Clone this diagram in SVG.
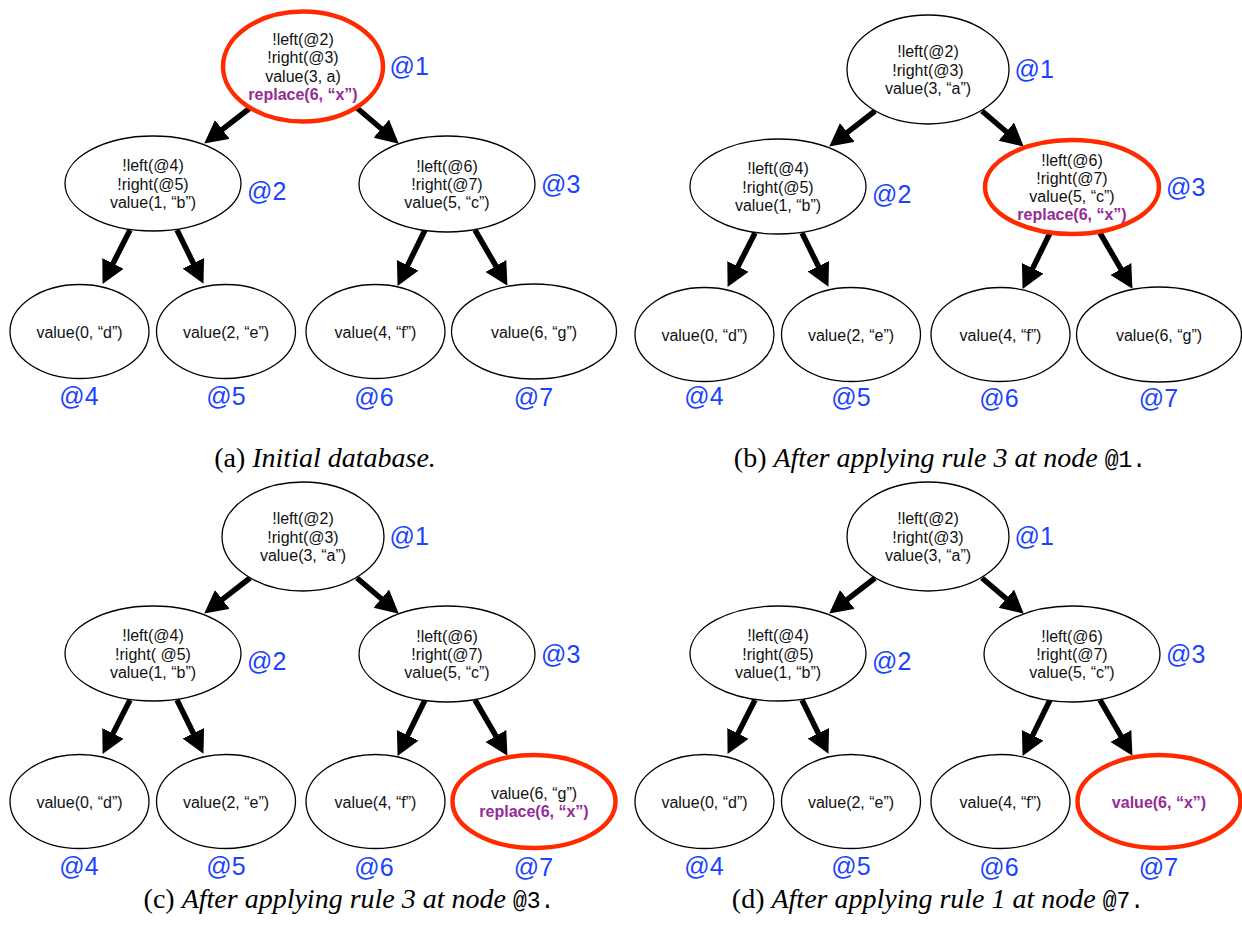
<svg xmlns="http://www.w3.org/2000/svg" width="1242" height="942" viewBox="0 0 1242 942">
  <defs>
    <style>
      .node { fill: #ffffff; stroke: #000000; stroke-width: 1.3; }
      .hot { fill: #ffffff; stroke: #ff2a00; stroke-width: 4.5; }
      .t { font-family: "Liberation Sans", Arial, Helvetica, sans-serif; font-size: 16px; fill: #111111; text-anchor: middle; }
      .rp { font-weight: bold; fill: #962b96; }
      .lbl { font-family: "Liberation Sans", Arial, Helvetica, sans-serif; font-size: 25px; fill: #1a43ff; }
      .mid { text-anchor: middle; }
      .edge { stroke: #000000; stroke-width: 5.5; fill: none; marker-end: url(#head); }
      .cap { font-family: "Liberation Serif", "Times New Roman", serif; font-size: 28px; fill: #000000; text-anchor: middle; }
      .it { font-style: italic; }
      .mono { font-family: "Liberation Mono", "Courier New", monospace; font-size: 23px; }
    </style>
    <marker id="head" markerUnits="userSpaceOnUse" markerWidth="26" markerHeight="26" refX="2" refY="12" orient="auto">
      <path d="M0,0 L23,12 L0,24 z" fill="#000000"/>
    </marker>
  </defs>

  <rect width="1242" height="942" fill="#ffffff"/>

  <!-- (a) initial database -->
  <g id="panel-a">
    <g id="a-edges">
      <line class="edge" x1="250" y1="108" x2="220.8" y2="130.7"/>
      <line class="edge" x1="357" y1="108" x2="382.8" y2="130"/>
      <line class="edge" x1="130" y1="230" x2="112.1" y2="265.2"/>
      <line class="edge" x1="177" y1="230" x2="194.2" y2="265"/>
      <line class="edge" x1="425" y1="230" x2="406.8" y2="267.1"/>
      <line class="edge" x1="475" y1="230" x2="496.9" y2="267.7"/>
    </g>
    <g id="a-n1">
      <ellipse class="hot" cx="303" cy="66.5" rx="80" ry="55"/>
      <text class="t" x="303" y="45">!left(@2)</text>
      <text class="t" x="303" y="63.3">!right(@3)</text>
      <text class="t" x="303" y="81.6">value(3, a)</text>
      <text class="t rp" x="303" y="99.9">replace(6, “x”)</text>
      <text class="lbl" x="389.5" y="75">@1</text>
    </g>
    <g id="a-n2">
      <ellipse class="node" cx="153" cy="183.5" rx="88" ry="47.5"/>
      <text class="t" x="153" y="171.2">!left(@4)</text>
      <text class="t" x="153" y="189.5">!right(@5)</text>
      <text class="t" x="153" y="207.8">value(1, “b”)</text>
      <text class="lbl" x="247" y="200">@2</text>
    </g>
    <g id="a-n3">
      <ellipse class="node" cx="447" cy="184" rx="88" ry="48"/>
      <text class="t" x="447" y="171.7">!left(@6)</text>
      <text class="t" x="447" y="190">!right(@7)</text>
      <text class="t" x="447" y="208.3">value(5, “c”)</text>
      <text class="lbl" x="541" y="193">@3</text>
    </g>
    <g id="a-n4">
      <ellipse class="node" cx="79.5" cy="331.5" rx="69.5" ry="47"/>
      <text class="t" x="79.5" y="338">value(0, “d”)</text>
      <text class="lbl mid" x="79" y="405">@4</text>
    </g>
    <g id="a-n5">
      <ellipse class="node" cx="226" cy="331.5" rx="69.5" ry="47"/>
      <text class="t" x="226" y="338">value(2, “e”)</text>
      <text class="lbl mid" x="226" y="405">@5</text>
    </g>
    <g id="a-n6">
      <ellipse class="node" cx="375.5" cy="331.5" rx="69.5" ry="47"/>
      <text class="t" x="375.5" y="338">value(4, “f”)</text>
      <text class="lbl mid" x="374" y="406">@6</text>
    </g>
    <g id="a-n7">
      <ellipse class="node" cx="534" cy="331.5" rx="82.5" ry="47.5"/>
      <text class="t" x="534" y="338">value(6, “g”)</text>
      <text class="lbl mid" x="533.5" y="406">@7</text>
    </g>
  </g>

  <!-- (b) after rule 3 at @1 -->
  <g id="panel-b" transform="translate(625,3)">
    <g id="b-edges">
      <line class="edge" x1="250" y1="108" x2="220.8" y2="130.7"/>
      <line class="edge" x1="357" y1="108" x2="382.8" y2="130"/>
      <line class="edge" x1="130" y1="230" x2="112.1" y2="265.2"/>
      <line class="edge" x1="177" y1="230" x2="194.2" y2="265"/>
      <line class="edge" x1="425" y1="230" x2="406.8" y2="267.1"/>
      <line class="edge" x1="475" y1="230" x2="496.9" y2="267.7"/>
    </g>
    <g id="b-n1">
      <ellipse class="node" cx="303" cy="66.5" rx="81" ry="54.5"/>
      <text class="t" x="303" y="54.2">!left(@2)</text>
      <text class="t" x="303" y="72.5">!right(@3)</text>
      <text class="t" x="303" y="90.8">value(3, “a”)</text>
      <text class="lbl" x="389.5" y="75">@1</text>
    </g>
    <g id="b-n2">
      <ellipse class="node" cx="153" cy="183.5" rx="88" ry="47.5"/>
      <text class="t" x="153" y="171.2">!left(@4)</text>
      <text class="t" x="153" y="189.5">!right(@5)</text>
      <text class="t" x="153" y="207.8">value(1, “b”)</text>
      <text class="lbl" x="247" y="200">@2</text>
    </g>
    <g id="b-n3">
      <ellipse class="hot" cx="447" cy="184" rx="87" ry="47"/>
      <text class="t" x="447" y="162.5">!left(@6)</text>
      <text class="t" x="447" y="180.8">!right(@7)</text>
      <text class="t" x="447" y="199.1">value(5, “c”)</text>
      <text class="t rp" x="447" y="217.4">replace(6, “x”)</text>
      <text class="lbl" x="541" y="193">@3</text>
    </g>
    <g id="b-n4">
      <ellipse class="node" cx="79.5" cy="331.5" rx="69.5" ry="47"/>
      <text class="t" x="79.5" y="338">value(0, “d”)</text>
      <text class="lbl mid" x="79" y="402">@4</text>
    </g>
    <g id="b-n5">
      <ellipse class="node" cx="226" cy="331.5" rx="69.5" ry="47"/>
      <text class="t" x="226" y="338">value(2, “e”)</text>
      <text class="lbl mid" x="226" y="403">@5</text>
    </g>
    <g id="b-n6">
      <ellipse class="node" cx="375.5" cy="331.5" rx="69.5" ry="47"/>
      <text class="t" x="375.5" y="338">value(4, “f”)</text>
      <text class="lbl mid" x="374" y="404">@6</text>
    </g>
    <g id="b-n7">
      <ellipse class="node" cx="534" cy="331.5" rx="82.5" ry="47.5"/>
      <text class="t" x="534" y="338">value(6, “g”)</text>
      <text class="lbl mid" x="533.5" y="404">@7</text>
    </g>
  </g>

  <!-- (c) after rule 3 at @3 -->
  <g id="panel-c" transform="translate(0,470)">
    <g id="c-edges">
      <line class="edge" x1="250" y1="108" x2="220.8" y2="130.7"/>
      <line class="edge" x1="357" y1="108" x2="382.8" y2="130"/>
      <line class="edge" x1="130" y1="230" x2="112.1" y2="265.2"/>
      <line class="edge" x1="177" y1="230" x2="194.2" y2="265"/>
      <line class="edge" x1="425" y1="230" x2="406.8" y2="267.1"/>
      <line class="edge" x1="475" y1="230" x2="496.9" y2="267.7"/>
    </g>
    <g id="c-n1">
      <ellipse class="node" cx="303" cy="66.5" rx="81" ry="54.5"/>
      <text class="t" x="303" y="54.2">!left(@2)</text>
      <text class="t" x="303" y="72.5">!right(@3)</text>
      <text class="t" x="303" y="90.8">value(3, “a”)</text>
      <text class="lbl" x="389.5" y="75">@1</text>
    </g>
    <g id="c-n2">
      <ellipse class="node" cx="153" cy="183.5" rx="88" ry="47.5"/>
      <text class="t" x="153" y="171.2">!left(@4)</text>
      <text class="t" x="153" y="189.5">!right( @5)</text>
      <text class="t" x="153" y="207.8">value(1, “b”)</text>
      <text class="lbl" x="247" y="200">@2</text>
    </g>
    <g id="c-n3">
      <ellipse class="node" cx="447" cy="184" rx="88" ry="48"/>
      <text class="t" x="447" y="171.7">!left(@6)</text>
      <text class="t" x="447" y="190">!right(@7)</text>
      <text class="t" x="447" y="208.3">value(5, “c”)</text>
      <text class="lbl" x="541" y="193">@3</text>
    </g>
    <g id="c-n4">
      <ellipse class="node" cx="79.5" cy="331.5" rx="69.5" ry="47"/>
      <text class="t" x="79.5" y="338">value(0, “d”)</text>
      <text class="lbl mid" x="79" y="405">@4</text>
    </g>
    <g id="c-n5">
      <ellipse class="node" cx="226" cy="331.5" rx="69.5" ry="47"/>
      <text class="t" x="226" y="338">value(2, “e”)</text>
      <text class="lbl mid" x="226" y="405">@5</text>
    </g>
    <g id="c-n6">
      <ellipse class="node" cx="375.5" cy="331.5" rx="69.5" ry="47"/>
      <text class="t" x="375.5" y="338">value(4, “f”)</text>
      <text class="lbl mid" x="374" y="406">@6</text>
    </g>
    <g id="c-n7">
      <ellipse class="hot" cx="534" cy="331.5" rx="81.5" ry="46.5"/>
      <text class="t" x="534" y="329">value(6, “g”)</text>
      <text class="t rp" x="534" y="347">replace(6, “x”)</text>
      <text class="lbl mid" x="533.5" y="406">@7</text>
    </g>
  </g>

  <!-- (d) after rule 1 at @7 -->
  <g id="panel-d" transform="translate(625,470)">
    <g id="d-edges">
      <line class="edge" x1="250" y1="108" x2="220.8" y2="130.7"/>
      <line class="edge" x1="357" y1="108" x2="382.8" y2="130"/>
      <line class="edge" x1="130" y1="230" x2="112.1" y2="265.2"/>
      <line class="edge" x1="177" y1="230" x2="194.2" y2="265"/>
      <line class="edge" x1="425" y1="230" x2="406.8" y2="267.1"/>
      <line class="edge" x1="475" y1="230" x2="496.9" y2="267.7"/>
    </g>
    <g id="d-n1">
      <ellipse class="node" cx="303" cy="66.5" rx="81" ry="54.5"/>
      <text class="t" x="303" y="54.2">!left(@2)</text>
      <text class="t" x="303" y="72.5">!right(@3)</text>
      <text class="t" x="303" y="90.8">value(3, “a”)</text>
      <text class="lbl" x="389.5" y="75">@1</text>
    </g>
    <g id="d-n2">
      <ellipse class="node" cx="153" cy="183.5" rx="88" ry="47.5"/>
      <text class="t" x="153" y="171.2">!left(@4)</text>
      <text class="t" x="153" y="189.5">!right(@5)</text>
      <text class="t" x="153" y="207.8">value(1, “b”)</text>
      <text class="lbl" x="247" y="200">@2</text>
    </g>
    <g id="d-n3">
      <ellipse class="node" cx="447" cy="184" rx="88" ry="48"/>
      <text class="t" x="447" y="171.7">!left(@6)</text>
      <text class="t" x="447" y="190">!right(@7)</text>
      <text class="t" x="447" y="208.3">value(5, “c”)</text>
      <text class="lbl" x="541" y="193">@3</text>
    </g>
    <g id="d-n4">
      <ellipse class="node" cx="79.5" cy="331.5" rx="69.5" ry="47"/>
      <text class="t" x="79.5" y="338">value(0, “d”)</text>
      <text class="lbl mid" x="79" y="405">@4</text>
    </g>
    <g id="d-n5">
      <ellipse class="node" cx="226" cy="331.5" rx="69.5" ry="47"/>
      <text class="t" x="226" y="338">value(2, “e”)</text>
      <text class="lbl mid" x="226" y="405">@5</text>
    </g>
    <g id="d-n6">
      <ellipse class="node" cx="375.5" cy="331.5" rx="69.5" ry="47"/>
      <text class="t" x="375.5" y="338">value(4, “f”)</text>
      <text class="lbl mid" x="374" y="406">@6</text>
    </g>
    <g id="d-n7">
      <ellipse class="hot" cx="534" cy="331.5" rx="81.5" ry="46.5"/>
      <text class="t rp" x="534" y="338">value(6, “x”)</text>
      <text class="lbl mid" x="533.5" y="406">@7</text>
    </g>
  </g>

  <!-- subfigure captions -->
  <g id="captions">
    <text class="cap" x="325" y="467">(a) <tspan class="it">Initial database.</tspan></text>
    <text class="cap" x="940" y="467">(b) <tspan class="it">After applying rule 3 at node </tspan><tspan class="mono">@1.</tspan></text>
    <text class="cap" x="349" y="908">(c) <tspan class="it">After applying rule 3 at node </tspan><tspan class="mono">@3.</tspan></text>
    <text class="cap" x="938" y="908">(d) <tspan class="it">After applying rule 1 at node </tspan><tspan class="mono">@7.</tspan></text>
  </g>
</svg>
